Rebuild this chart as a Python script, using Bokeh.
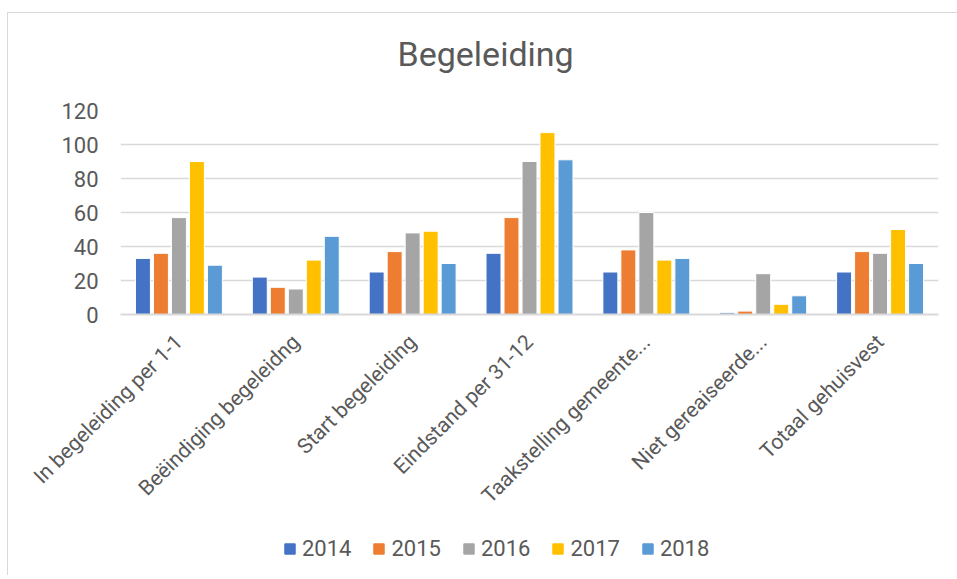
import math
from bokeh.plotting import figure
from bokeh.layouts import column
from bokeh.models import (ColumnDataSource, FactorRange, Range1d, Legend, LegendItem)
from bokeh.transform import dodge
from bokeh.embed import file_html
from bokeh.resources import INLINE

categories = ["In begeleiding per 1-1", "Beëindiging begeleidng", "Start begeleiding",
              "Eindstand per 31-12", "Taakstelling gemeente...", "Niet gereaiseerde...",
              "Totaal gehuisvest"]
years = ["2014", "2015", "2016", "2017", "2018"]
v2014 = [33, 22, 25, 36, 25, 1, 25]
v2015 = [36, 16, 37, 57, 38, 2, 37]
v2016 = [57, 15, 48, 90, 60, 24, 36]
v2017 = [90, 32, 49, 107, 32, 6, 50]
v2018 = [29, 46, 30, 91, 33, 11, 30]
colors = ["#4472C4", "#ED7D31", "#A5A5A5", "#FFC000", "#5B9BD5"]
y_ticks = [0, 20, 40, 60, 80, 100, 120]

FONT = "Roboto"
TXT = "#595959"
GRID = "#D9D9D9"

src = ColumnDataSource(dict(cat=categories, y2014=v2014, y2015=v2015, y2016=v2016,
                            y2017=v2017, y2018=v2018))
cols = ["y2014", "y2015", "y2016", "y2017", "y2018"]
step = 0.154

# main chart
p = figure(width=949, height=425, x_range=FactorRange(*categories),
           y_range=Range1d(0, 120), output_backend="svg", toolbar_location=None,
           min_border_left=112, min_border_right=19, min_border_top=10,
           min_border_bottom=211)

for i, (col, c) in enumerate(zip(cols, colors)):
    p.vbar(x=dodge("cat", (i - 2) * step, range=p.x_range), top=col, width=0.128,
           bottom=0, source=src, fill_color=c, line_color="white", line_width=1)

p.outline_line_color = None
p.background_fill_color = "white"
p.border_fill_color = "white"

p.xgrid.grid_line_color = None
p.ygrid.grid_line_color = GRID
p.ygrid.grid_line_width = 1.3
p.yaxis.ticker = y_ticks
p.yaxis.axis_line_color = None
p.yaxis.major_tick_line_color = None
p.yaxis.major_tick_out = 0
p.yaxis.minor_tick_line_color = None
p.yaxis.major_label_standoff = 22
p.yaxis.major_label_text_font = FONT
p.yaxis.major_label_text_font_size = "22px"
p.yaxis.major_label_text_color = TXT

p.xaxis.axis_line_color = GRID
p.xaxis.axis_line_width = 2
p.xaxis.major_tick_line_color = None
p.xaxis.major_tick_out = 0
p.xaxis.minor_tick_line_color = None
p.xaxis.major_label_orientation = math.pi / 4
p.xaxis.major_label_standoff = 24
p.xaxis.major_label_text_font = FONT
p.xaxis.major_label_text_font_size = "21px"
p.xaxis.major_label_text_color = TXT

# title strip above the chart
tf = figure(width=949, height=87, x_range=p.x_range, y_range=Range1d(0, 1),
            output_backend="svg", toolbar_location=None, x_axis_location=None,
            y_axis_location=None, min_border=0, title="Begeleiding")
tf.outline_line_color = None
tf.xgrid.grid_line_color = None
tf.ygrid.grid_line_color = None
tf.title.text_font = FONT
tf.title.text_font_size = "34px"
tf.title.text_font_style = "normal"
tf.title.text_color = TXT
tf.title.align = "left"
tf.title.offset = 277
tf.title.standoff = 36

# legend strip below the chart (bars kept out of view by its y range)
lf = figure(width=949, height=50, x_range=p.x_range, y_range=Range1d(1000, 1001),
            output_backend="svg", toolbar_location=None, x_axis_location=None,
            y_axis_location=None, min_border=0)
lf.outline_line_color = None
lf.xgrid.grid_line_color = None
lf.ygrid.grid_line_color = None
renderers = []
for i, (col, c) in enumerate(zip(cols, colors)):
    r = lf.vbar(x=dodge("cat", (i - 2) * step, range=lf.x_range), top=col, width=0.128,
                bottom=0, source=src, fill_color=c, line_color=c, line_width=1)
    renderers.append(r)

legend = Legend(items=[LegendItem(label=y, renderers=[r]) for y, r in zip(years, renderers)],
                orientation="horizontal", location=(163, 14),
                glyph_width=13, glyph_height=13, label_standoff=6, spacing=21,
                padding=0, margin=0, border_line_color=None, background_fill_alpha=0,
                label_text_font=FONT, label_text_font_size="22px",
                label_text_color=TXT, label_height=24)
lf.add_layout(legend)

layout = column(tf, p, lf, spacing=0,
                styles={"border-left": "1px solid #D9D9D9", "border-top": "1px solid #D9D9D9",
                        "margin-left": "7px", "margin-top": "12px"})

open("out.html", "w").write(file_html(layout, INLINE))
